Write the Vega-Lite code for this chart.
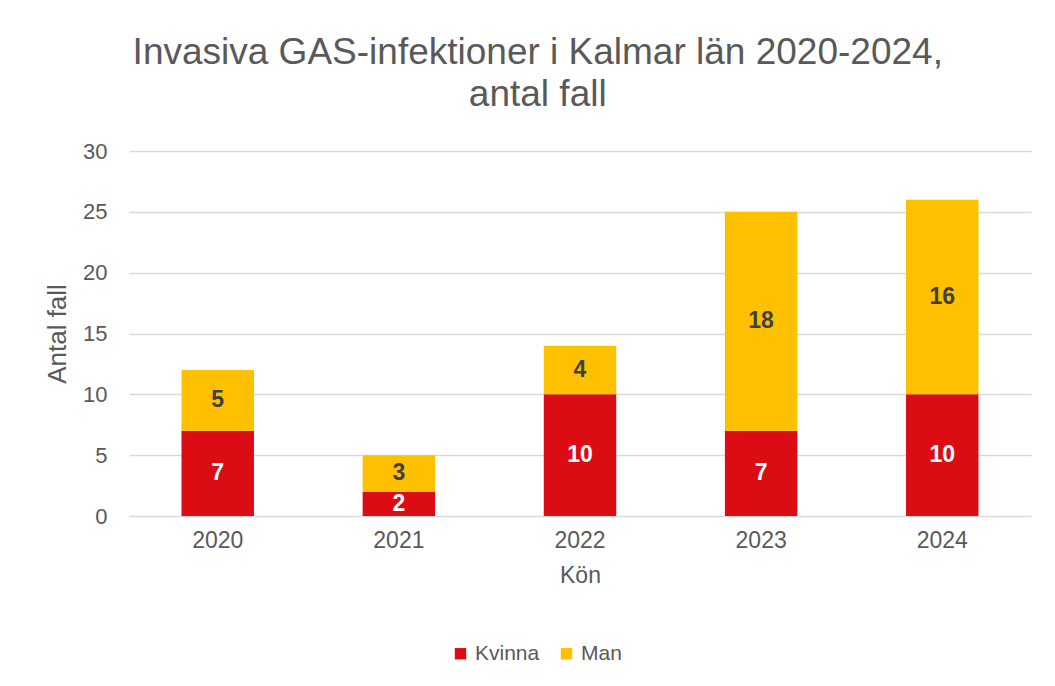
{
  "$schema": "https://vega.github.io/schema/vega-lite/v6.json",
  "width": 902,
  "height": 365,
  "padding": {"left": 44, "top": 34, "right": 20, "bottom": 10},
  "background": "white",
  "title": {
    "text": ["Invasiva  GAS-infektioner i Kalmar län 2020-2024,", "antal fall"],
    "font": "Liberation Sans",
    "fontSize": 37,
    "fontWeight": "normal",
    "color": "#595959",
    "lineHeight": 42,
    "anchor": "middle",
    "frame": "bounds",
    "dx": 0,
    "offset": 26
  },
  "data": {
    "values": [
      {"year": "2020", "kon": "Kvinna", "antal": 7},
      {"year": "2020", "kon": "Man", "antal": 5},
      {"year": "2021", "kon": "Kvinna", "antal": 2},
      {"year": "2021", "kon": "Man", "antal": 3},
      {"year": "2022", "kon": "Kvinna", "antal": 10},
      {"year": "2022", "kon": "Man", "antal": 4},
      {"year": "2023", "kon": "Kvinna", "antal": 7},
      {"year": "2023", "kon": "Man", "antal": 18},
      {"year": "2024", "kon": "Kvinna", "antal": 10},
      {"year": "2024", "kon": "Man", "antal": 16}
    ]
  },
  "transform": [
    {"stack": "antal", "groupby": ["year"], "sort": [{"field": "kon", "order": "ascending"}], "as": ["y0", "y1"]},
    {"calculate": "(datum.y0 + datum.y1) / 2", "as": "ymid"}
  ],
  "encoding": {
    "x": {
      "field": "year",
      "type": "nominal",
      "title": "Kön",
      "scale": {"paddingInner": 0.6, "paddingOuter": 0.29},
      "axis": {
        "labelAngle": 0,
        "labelFont": "Liberation Sans",
        "labelFontSize": 23,
        "labelColor": "#595959",
        "labelPadding": 13,
        "titleFont": "Liberation Sans",
        "titleFontSize": 23,
        "titleFontWeight": "normal",
        "titleColor": "#595959",
        "titlePadding": 12,
        "ticks": false,
        "domain": false
      }
    }
  },
  "layer": [
    {
      "mark": {"type": "bar"},
      "encoding": {
        "y": {
          "field": "y0",
          "type": "quantitative",
          "title": "Antal fall",
          "scale": {"domain": [0, 30]},
          "axis": {
            "values": [0, 5, 10, 15, 20, 25, 30],
            "labelFont": "Liberation Sans",
            "labelFontSize": 22,
            "labelColor": "#595959",
            "labelPadding": 22,
            "titleFont": "Liberation Sans",
            "titleFontSize": 26,
            "titleFontWeight": "normal",
            "titleColor": "#595959",
            "titlePadding": 12,
            "ticks": false,
            "domain": false,
            "gridColor": "#D9D9D9",
            "gridWidth": 1.5
          }
        },
        "y2": {"field": "y1"},
        "color": {
          "field": "kon",
          "type": "nominal",
          "title": null,
          "scale": {"domain": ["Kvinna", "Man"], "range": ["#DC0C15", "#FFC000"]},
          "legend": {
            "orient": "none",
            "legendX": 321,
            "legendY": 492,
            "direction": "horizontal",
            "symbolType": "square",
            "symbolSize": 130,
            "symbolStrokeWidth": 0,
            "labelFont": "Liberation Sans",
            "labelFontSize": 21,
            "labelColor": "#595959",
            "columnPadding": 16,
            "labelOffset": 4
          }
        }
      }
    },
    {
      "mark": {"type": "text", "font": "Liberation Sans", "fontSize": 23, "fontWeight": "bold", "baseline": "middle"},
      "encoding": {
        "y": {"field": "ymid", "type": "quantitative"},
        "text": {"field": "antal", "type": "quantitative"},
        "color": {
          "condition": {"test": "datum.kon === 'Kvinna'", "value": "#FFFFFF"},
          "value": "#404040"
        }
      }
    }
  ],
  "config": {"view": {"stroke": null}}
}
